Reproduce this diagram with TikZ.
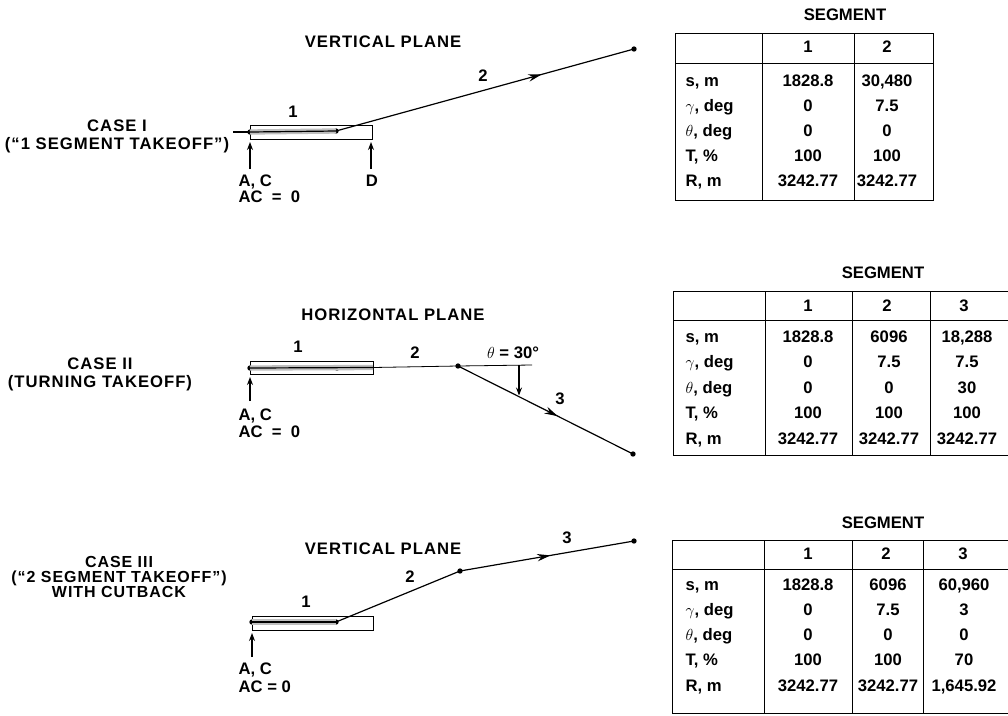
\documentclass[tikz,border=0pt]{standalone}
\usepackage{fontspec}
\setmainfont{Liberation Sans}
\newfontfamily\widesans[LetterSpace=6]{Liberation Sans}
\usetikzlibrary{arrows.meta,decorations.markings,positioning}

\begin{document}
\begin{tikzpicture}[x=0.75pt,y=-0.75pt,>={Stealth[length=6pt,width=4.5pt]},
    every node/.style={font=\bfseries\fontsize{12.5}{13.5}\selectfont,inner sep=1pt},
    wide/.style={font=\widesans\bfseries\fontsize{12.5}{13.5}\selectfont},
    cell/.style={text height=8.6pt,text depth=2.4pt},
    dot/.style={circle,fill,inner sep=0pt,minimum size=4pt},
    flight/.style={line width=0.9pt},
    roll/.style={line width=4pt,gray!50,postaction={draw,black,line width=0.9pt}},
    runway/.style={draw,line width=0.5pt},
    pointer/.style={->,line width=0.9pt},
    ahead/.style={postaction={decorate},decoration={markings,
        mark=at position #1 with {\arrow{Stealth[length=10pt,width=5.5pt]}}}}]

\useasboundingbox (0,0) rectangle (1008,715);
\clip (0,0) rectangle (1008,715);

% case I
\node [wide] (vp1) at (383,42) {VERTICAL PLANE};
\node [wide, align=center] (case1) at (117,136) {CASE I\\(“1 SEGMENT TAKEOFF”)};

\draw [runway] (250,125) rectangle (372,139);
\coordinate (in1) at (233,132);
\node [dot] (a1) at (250,132) {};
\node [dot] (rot1) at (336,131) {};
\node [dot] (end1) at (634,49) {};
\draw [flight] (in1) -- (a1.center);
\draw [roll] (a1.center) -- (rot1.center);
\draw [flight, ahead=0.69] (rot1.center) -- (end1.center);
\node at (293,112) {1};
\node at (483,76) {2};

\node [cell, anchor=west] (ac1) at (237,182) {A, C};
\node [cell, anchor=west] (zero1) at (237,198) {AC\ \ =\ \ 0};
\node [cell] (d1) at (372,182) {D};
\coordinate (acb1) at (250,169);
\coordinate (act1) at (250,142);
\coordinate (db1) at (371,169);
\coordinate (dt1) at (371,142);
\draw [pointer] (acb1) -- (act1);
\draw [pointer] (db1) -- (dt1);

% case II
\node [wide] (hp2) at (393,315) {HORIZONTAL PLANE};
\node [wide, align=center] (case2) at (100,374) {CASE II\\(TURNING TAKEOFF)};

\draw [runway] (250,361) rectangle (373,374);
\node [dot] (a2) at (250,368) {};
\node [dot] (rot2) at (337,368) {};
\coordinate (rwe2) at (373,367.5);
\node [dot] (turn2) at (458,366) {};
\coordinate (ref2) at (532,365);
\node [dot] (end2) at (633,454) {};
\draw [roll] (a2.center) -- (rwe2);
\draw [line width=0.6pt] (rwe2) -- (turn2.center);
\draw [line width=0.6pt] (turn2.center) -- (ref2);
\draw [flight, ahead=0.57] (turn2.center) -- (end2.center);
\coordinate (tht2) at (519,365);
\coordinate (thb2) at (519,395.5);
\draw [pointer] (tht2) -- (thb2);
\node at (298,347) {1};
\node at (415,353) {2};
\node at (513,353) {$\theta$ = 30°};
\node at (560,399) {3};

\node [cell, anchor=west] (ac2) at (237,416) {A, C};
\node [cell, anchor=west] (zero2) at (237,433) {AC\ \ =\ \ 0};
\coordinate (acb2) at (250,401);
\coordinate (act2) at (250,377);
\draw [pointer] (acb2) -- (act2);

% case III
\node [wide] (vp3) at (383,549) {VERTICAL PLANE};
\node [align=center, inner sep=0pt, font=\widesans\bfseries\fontsize{12}{11}\selectfont]
    (case3) at (119,577) {CASE III\\(“2 SEGMENT TAKEOFF”)\\WITH CUTBACK};

\draw [runway] (252,616) rectangle (373,630);
\node [dot] (a3) at (252,622) {};
\node [dot] (rot3) at (336,622) {};
\node [dot] (cut3) at (460,571) {};
\node [dot] (end3) at (634,541) {};
\draw [roll] (a3.center) -- (rot3.center);
\draw [flight] (rot3.center) -- (cut3.center);
\draw [flight, ahead=0.52] (cut3.center) -- (end3.center);
\node at (306,602) {1};
\node at (410,577) {2};
\node at (567,538) {3};

\node [cell, anchor=west] (ac3) at (237,670) {A, C};
\node [cell, anchor=west] (zero3) at (237,688) {AC = 0};
\coordinate (acb3) at (252,657);
\coordinate (act3) at (252,633);
\draw [pointer] (acb3) -- (act3);

% table I
\node (seg1) at (845,15) {SEGMENT};
\draw [line width=0.6pt] (675,33) rectangle (933,200);
\draw [line width=0.6pt] (762,33) -- (762,200) (854,33) -- (854,200) (675,63) -- (933,63);
\node [cell] at (808,48) {1};
\node [cell] at (887,48) {2};
\foreach \lab/\va/\vb [count=\i from 0] in {{s, m}/1828.8/{30,480},
    {$\gamma$, deg}/0/7.5, {$\theta$, deg}/0/0, {T, \%}/100/100, {R, m}/3242.77/3242.77}
{
  \node [cell, anchor=west] at (684,82+25*\i) {\lab};
  \node [cell] at (808,82+25*\i) {\va};
  \node [cell] at (887,82+25*\i) {\vb};
}

% table II
\node (seg2) at (883,273) {SEGMENT};
\draw [line width=0.6pt] (1012,291) -- (673,291) -- (673,455) -- (1012,455);
\draw [line width=0.6pt] (765,291) -- (765,455) (852,291) -- (852,455)
    (930,291) -- (930,455) (673,320) -- (1012,320);
\node [cell] at (808,307) {1};
\node [cell] at (887,307) {2};
\node [cell] at (964,307) {3};
\foreach \lab/\va/\vb/\vc [count=\i from 0] in {{s, m}/1828.8/6096/{18,288},
    {$\gamma$, deg}/0/7.5/7.5, {$\theta$, deg}/0/0/30, {T, \%}/100/100/100,
    {R, m}/3242.77/3242.77/3242.77}
{
  \node [cell, anchor=west] at (684,338+25.5*\i) {\lab};
  \node [cell] at (808,338+25.5*\i) {\va};
  \node [cell] at (889,338+25.5*\i) {\vb};
  \node [cell] at (967,338+25.5*\i) {\vc};
}

% table III
\node (seg3) at (883,523) {SEGMENT};
\draw [line width=0.6pt] (1012,540) -- (672,540) -- (672,713) -- (1012,713);
\draw [line width=0.6pt] (764,540) -- (764,713) (852,540) -- (852,713)
    (923,540) -- (923,713) (672,569) -- (1012,569);
\node [cell] at (808,555) {1};
\node [cell] at (886,555) {2};
\node [cell] at (963,555) {3};
\foreach \lab/\va/\vb/\vc [count=\i from 0] in {{s, m}/1828.8/6096/{60,960},
    {$\gamma$, deg}/0/7.5/3, {$\theta$, deg}/0/0/0, {T, \%}/100/100/70,
    {R, m}/3242.77/3242.77/{1,645.92}}
{
  \node [cell, anchor=west] at (684,586+25.25*\i) {\lab};
  \node [cell] at (808,586+25.25*\i) {\va};
  \node [cell] at (888,586+25.25*\i) {\vb};
  \node [cell] at (964,586+25.25*\i) {\vc};
}

\end{tikzpicture}
\end{document}
